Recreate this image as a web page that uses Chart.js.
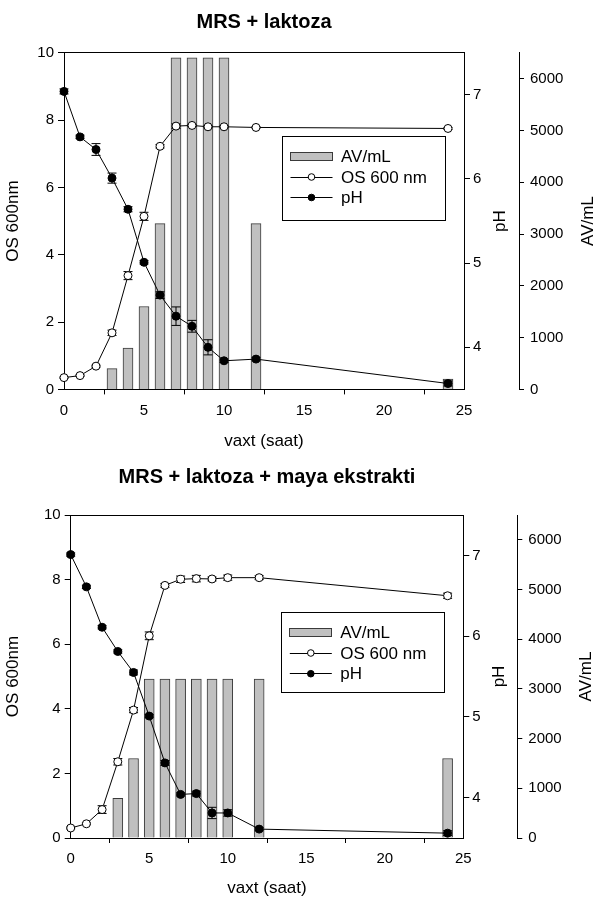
<!DOCTYPE html>
<html><head><meta charset="utf-8">
<script src="https://cdn.jsdelivr.net/npm/chart.js@4.4.1/dist/chart.umd.min.js"></script>
<style>
html,body{margin:0;padding:0;background:#fff;}
#wrap{position:relative;width:596px;height:897px;overflow:hidden;background:#fff;}
.c{position:absolute;left:0;}
</style></head><body>
<div id="wrap">
<canvas id="c1" class="c" style="top:0" width="596" height="460"></canvas>
<canvas id="c2" class="c" style="top:455px" width="596" height="442"></canvas>
</div>
<script>
// ---- data ----
const time = [0, 1, 2, 3, 4, 5, 6, 7, 8, 9, 10, 12, 24];
const avTime = [3, 4, 5, 6, 7, 8, 9, 10, 12, 24];

const title1 = 'MRS + laktoza';
const os1 = [0.35, 0.41, 0.69, 1.68, 3.38, 5.14, 7.22, 7.82, 7.84, 7.80, 7.80, 7.78, 7.75];
const os1Err = [0.02, 0.02, 0.03, 0.08, 0.12, 0.12, 0.05, 0.07, 0.03, 0.03, 0.03, 0.02, 0.03];
const ph1 = [7.04, 6.50, 6.35, 6.01, 5.64, 5.01, 4.62, 4.37, 4.25, 4.00, 3.84, 3.86, 3.57];
const ph1Err = [0.03, 0.02, 0.07, 0.06, 0.03, 0.02, 0.04, 0.11, 0.07, 0.09, 0.02, 0.02, 0.03];
const av1 = [400, 800, 1600, 3200, 6400, 6400, 6400, 6400, 3200, 200];

const title2 = 'MRS + laktoza + maya ekstrakti';
const os2 = [0.31, 0.44, 0.88, 2.36, 3.96, 6.26, 7.82, 8.01, 8.03, 8.02, 8.06, 8.06, 7.50];
const os2Err = [0.03, 0.03, 0.12, 0.10, 0.08, 0.12, 0.06, 0.10, 0.10, 0.06, 0.08, 0.06, 0.08];
const ph2 = [7.01, 6.61, 6.11, 5.81, 5.55, 5.01, 4.43, 4.04, 4.05, 3.81, 3.81, 3.61, 3.56];
const ph2Err = [0.02, 0.02, 0.02, 0.02, 0.03, 0.02, 0.03, 0.02, 0.03, 0.07, 0.04, 0.02, 0.03];
const av2 = [800, 1600, 3200, 3200, 3200, 3200, 3200, 3200, 3200, 1600];

const xTicks = [0, 5, 10, 15, 20, 25];
const osTicks = [0, 2, 4, 6, 8, 10];
const phTicks = [4, 5, 6, 7];
const avTicks = [0, 1000, 2000, 3000, 4000, 5000, 6000];

const xTitle = 'vaxt (saat)';
const osTitle = 'OS 600nm';
const phTitle = 'pH';
const avTitle = 'AV/mL';
const legendLabels = ['AV/mL', 'OS 600 nm', 'pH'];

// ---- rendering ----
const FONT = "'Liberation Sans', Arial, sans-serif";
Chart.defaults.font.family = FONT;
Chart.defaults.color = '#000';

function align(p) { return Math.round(p - 0.5) + 0.5; }

const framePlugin = {
  id: 'frame',
  afterDraw(chart) {
    const { ctx, chartArea: a } = chart;
    ctx.save();
    ctx.strokeStyle = '#000'; ctx.lineWidth = 1;
    ctx.beginPath();
    ctx.moveTo(align(a.left), align(a.top));
    ctx.lineTo(align(a.right), align(a.top));
    ctx.stroke();
    ctx.restore();
  }
};

const errorPlugin = {
  id: 'errbars',
  afterDatasetDraw(chart, args) {
    if (args.index !== 0) return;
    const { ctx } = chart;
    ctx.save();
    ctx.strokeStyle = '#000'; ctx.lineWidth = 1;
    chart.data.datasets.forEach((ds, di) => {
      if (!ds.errors) return;
      const meta = chart.getDatasetMeta(di);
      const ys = chart.scales[ds.yAxisID];
      meta.data.forEach((pt, j) => {
        const v = ds.data[j].y, e = ds.errors[j];
        const y1 = ys.getPixelForValue(v - e), y2 = ys.getPixelForValue(v + e);
        const x = pt.x;
        ctx.beginPath();
        ctx.moveTo(x, y1); ctx.lineTo(x, y2);
        ctx.moveTo(x - 4.5, y1); ctx.lineTo(x + 4.5, y1);
        ctx.moveTo(x - 4.5, y2); ctx.lineTo(x + 4.5, y2);
        ctx.stroke();
      });
    });
    ctx.restore();
  }
};

const sideTitlePlugin = {
  id: 'sideTitles',
  afterDraw(chart, args, opts) {
    const { ctx, chartArea: a } = chart;
    ctx.save();
    ctx.fillStyle = '#000';
    ctx.font = '17px ' + FONT;
    ctx.textAlign = 'center'; ctx.textBaseline = 'middle';
    (opts.items || []).forEach(it => {
      const s = chart.scales[it.scale];
      ctx.save();
      ctx.translate(s.left + it.offset, (a.top + a.bottom) / 2);
      ctx.rotate(-Math.PI / 2);
      ctx.fillText(it.text, 0, 0);
      ctx.restore();
    });
    ctx.restore();
  }
};

const legendPlugin = {
  id: 'boxLegend',
  afterDraw(chart, args, o) {
    const { ctx, chartArea: a } = chart;
    const bx = a.right - o.right - o.w, by = a.top + o.top;
    ctx.save();
    ctx.strokeStyle = '#000'; ctx.lineWidth = 1;
    ctx.strokeRect(align(bx), align(by), Math.round(o.w), Math.round(o.h));
    const sx = bx + 8.5, sw = 42, tx = bx + 59;
    ctx.font = '17px ' + FONT; ctx.textBaseline = 'middle'; ctx.textAlign = 'left';
    const ds = chart.data.datasets;
    let y = by + o.rows[0];
    ctx.fillStyle = ds[0].backgroundColor;
    ctx.fillRect(sx, y - 4, sw, 8);
    ctx.strokeStyle = ds[0].borderColor;
    ctx.strokeRect(align(sx), align(y - 4), sw, 8);
    ctx.fillStyle = '#000';
    ctx.fillText(o.labels[0], tx, y + 1);
    for (let k = 1; k <= 2; k++) {
      y = by + o.rows[k];
      ctx.strokeStyle = '#000';
      ctx.beginPath(); ctx.moveTo(sx, align(y)); ctx.lineTo(sx + sw, align(y)); ctx.stroke();
      ctx.beginPath(); ctx.arc(sx + sw / 2, y, 3.3, 0, Math.PI * 2);
      ctx.fillStyle = ds[k].pointBackgroundColor; ctx.fill(); ctx.stroke();
      ctx.fillStyle = '#000';
      ctx.fillText(o.labels[k], tx, y + 1);
    }
    ctx.restore();
  }
};

function axisCommon(tl, pad) {
  return {
    grid: { drawOnChartArea: false, drawTicks: true, tickLength: tl, color: '#000', lineWidth: 1 },
    border: { display: true, color: '#000', width: 1 },
    ticks: { color: '#000', font: { size: 15 }, padding: pad, maxRotation: 0, autoSkip: false, callback: v => String(v) }
  };
}

function makeChart(id, c) {
  const pts = (xs, ys) => xs.map((x, i) => ({ x: x, y: ys[i] }));
  return new Chart(document.getElementById(id), {
    type: 'line',
    data: {
      datasets: [
        { type: 'bar', label: legendLabels[0], data: pts(avTime, c.av), xAxisID: 'x', yAxisID: 'av',
          backgroundColor: '#c0c0c0', borderColor: '#3a3a3a', borderWidth: 1, barThickness: 10, order: 3 },
        { label: legendLabels[1], data: pts(time, c.os), errors: c.osErr, xAxisID: 'x', yAxisID: 'os',
          borderColor: '#000', borderWidth: 1, pointRadius: 4, pointBackgroundColor: '#fff',
          pointBorderColor: '#000', pointBorderWidth: 1, tension: 0, clip: false, order: 2 },
        { label: legendLabels[2], data: pts(time, c.ph), errors: c.phErr, xAxisID: 'x', yAxisID: 'ph',
          borderColor: '#000', borderWidth: 1, pointRadius: 4, pointBackgroundColor: '#000',
          pointBorderColor: '#000', pointBorderWidth: 1, tension: 0, clip: false, order: 1 }
      ]
    },
    options: {
      responsive: false, animation: false, devicePixelRatio: 1,
      layout: { padding: 0 },
      plugins: {
        legend: { display: false }, tooltip: { enabled: false },
        title: { display: true, text: c.title, fullSize: false, color: '#000',
          font: { size: 20, weight: 'bold', lineHeight: 1.2 }, padding: { top: 10, bottom: c.titleBottom } },
        boxLegend: Object.assign({ labels: legendLabels }, c.legend),
        sideTitles: { items: [ { scale: 'ph', text: phTitle, offset: 36 }, { scale: 'av', text: avTitle, offset: 69 } ] }
      },
      scales: {
        x: Object.assign(axisCommon(5, 7), {
          type: 'linear', position: 'bottom', min: 0, max: 25, offset: false,
          afterBuildTicks: s => { s.ticks = xTicks.map(v => ({ value: v })); },
          afterFit: s => { s.height = c.xH; },
          title: { display: true, text: xTitle, color: '#000', font: { size: 17, lineHeight: 1 }, padding: { top: 0, bottom: c.xTitlePad } }
        }),
        os: Object.assign(axisCommon(6, 4), {
          type: 'linear', position: 'left', min: 0, max: 10,
          afterBuildTicks: s => { s.ticks = osTicks.map(v => ({ value: v })); },
          afterFit: s => { s.width = c.leftW; },
          title: { display: true, text: osTitle, color: '#000', font: { size: 17, lineHeight: 1.2 }, padding: { top: 3.5, bottom: 0 } }
        }),
        ph: Object.assign(axisCommon(6, 3), {
          type: 'linear', position: 'right', min: 3.5, max: 7.5, weight: 0,
          afterBuildTicks: s => { s.ticks = phTicks.map(v => ({ value: v })); },
          afterFit: s => { s.width = c.phW; }
        }),
        av: Object.assign(axisCommon(5, 6), {
          type: 'linear', position: 'right', min: 0, max: 6500, weight: 1,
          afterBuildTicks: s => { s.ticks = avTicks.map(v => ({ value: v })); },
          afterFit: s => { s.width = c.avW; }
        })
      }
    },
    plugins: [errorPlugin, framePlugin, sideTitlePlugin, legendPlugin]
  });
}

makeChart('c1', {
  title: title1, os: os1, osErr: os1Err, ph: ph1, phErr: ph1Err, av: av1,
  titleBottom: 18.7, xH: 70.6, xTitlePad: 10.5, leftW: 64, phW: 55, avW: 77,
  legend: { right: 19, top: 83.3, w: 163, h: 84, rows: [20.5, 41, 61.5] }
});
makeChart('c2', {
  title: title2, os: os2, osErr: os2Err, ph: ph2, phErr: ph2Err, av: av2,
  titleBottom: 26, xH: 59, xTitlePad: 0, leftW: 70.7, phW: 54, avW: 78.7,
  legend: { right: 19, top: 97.7, w: 163, h: 80, rows: [19.6, 40.3, 61] }
});
</script>
</body></html>
